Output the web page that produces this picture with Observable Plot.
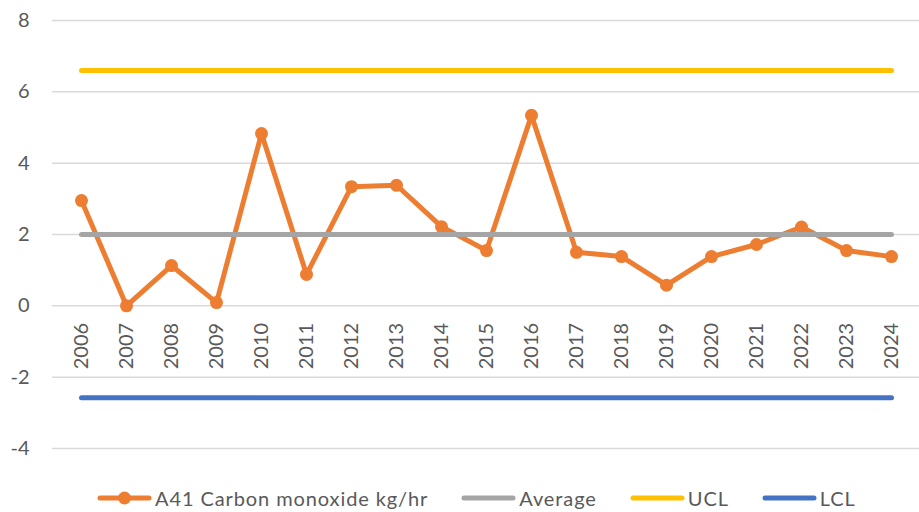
<!DOCTYPE html>
<html>
<head>
<meta charset="utf-8">
<script src="https://cdn.jsdelivr.net/npm/d3@7"></script>
<script src="https://cdn.jsdelivr.net/npm/@observablehq/plot@0.6"></script>
<style>
  html, body { margin: 0; padding: 0; background: #fff; }
  #wrap { position: relative; width: 919px; height: 512px; font-family: Lato, "Open Sans", sans-serif; }
  #legend { position: absolute; left: 97px; top: 485px; height: 26px; display: flex; align-items: center; color: #595959; font-size: 20px; letter-spacing: 0.9px; white-space: nowrap; }
  .item { display: flex; align-items: center; margin-right: 33px; }
  .item svg { margin-right: 3px; }
</style>
</head>
<body>
<div id="wrap">
  <div id="chart"></div>
  <div id="legend"></div>
</div>
<script>
const years = ["2006","2007","2008","2009","2010","2011","2012","2013","2014","2015","2016","2017","2018","2019","2020","2021","2022","2023","2024"];
const carbonMonoxide = [2.95, 0.0, 1.13, 0.09, 4.83, 0.88, 3.34, 3.38, 2.22, 1.55, 5.34, 1.50, 1.38, 0.58, 1.38, 1.72, 2.21, 1.55, 1.38];
const averageValue = 2.0;
const uclValue = 6.6;
const lclValue = -2.58;
const yTicks = [-4, -2, 0, 2, 4, 6, 8];
const seriesNames = ["A41 Carbon monoxide kg/hr", "Average", "UCL", "LCL"];
const seriesColors = ["#ED7D31", "#A5A5A5", "#FFC000", "#4472C4"];

const data = years.map((y, i) => ({year: y, value: carbonMonoxide[i]}));

const chart = Plot.plot({
  width: 919,
  height: 470,
  marginLeft: 52,
  marginRight: 0,
  marginTop: 20,
  marginBottom: 22,
  style: {fontFamily: "Lato, 'Open Sans', sans-serif", fontSize: "20px", color: "#595959", background: "white"},
  x: {type: "point", domain: years, padding: 0.5, axis: null},
  y: {domain: [-4, 8], axis: null},
  marks: [
    Plot.gridY(yTicks, {stroke: "#D9D9D9", strokeOpacity: 1, strokeWidth: 1.5}),
    Plot.axisY(yTicks, {tickSize: 0, tickPadding: 23, fill: "#595959", fontSize: 20, label: null, tickFormat: d => String(d)}),
    Plot.text(years, {x: d => d, y: () => 0, text: d => d, rotate: -90, textAnchor: "end", lineAnchor: "middle", dy: 17, fill: "#595959", fontSize: 20}),
    Plot.line(data, {x: "year", y: "value", stroke: seriesColors[0], strokeWidth: 5, strokeLinejoin: "round", strokeLinecap: "round"}),
    Plot.dot(data, {x: "year", y: "value", r: 6.5, fill: seriesColors[0], stroke: "none"}),
    Plot.line(years, {x: d => d, y: () => averageValue, stroke: seriesColors[1], strokeWidth: 5, strokeLinecap: "round"}),
    Plot.line(years, {x: d => d, y: () => uclValue, stroke: seriesColors[2], strokeWidth: 5, strokeLinecap: "round"}),
    Plot.line(years, {x: d => d, y: () => lclValue, stroke: seriesColors[3], strokeWidth: 5, strokeLinecap: "round"})
  ]
});
document.getElementById("chart").appendChild(chart);

const legend = document.getElementById("legend");
seriesNames.forEach((name, i) => {
  const item = document.createElement("div");
  item.className = "item";
  const marker = i === 0 ? `<circle cx="27.5" cy="7" r="6.5" fill="${seriesColors[i]}"/>` : "";
  item.innerHTML = `<svg width="55" height="14"><line x1="3" y1="7" x2="52" y2="7" stroke="${seriesColors[i]}" stroke-width="5" stroke-linecap="round"/>${marker}</svg><span>${name}</span>`;
  legend.appendChild(item);
});
</script>
</body>
</html>
